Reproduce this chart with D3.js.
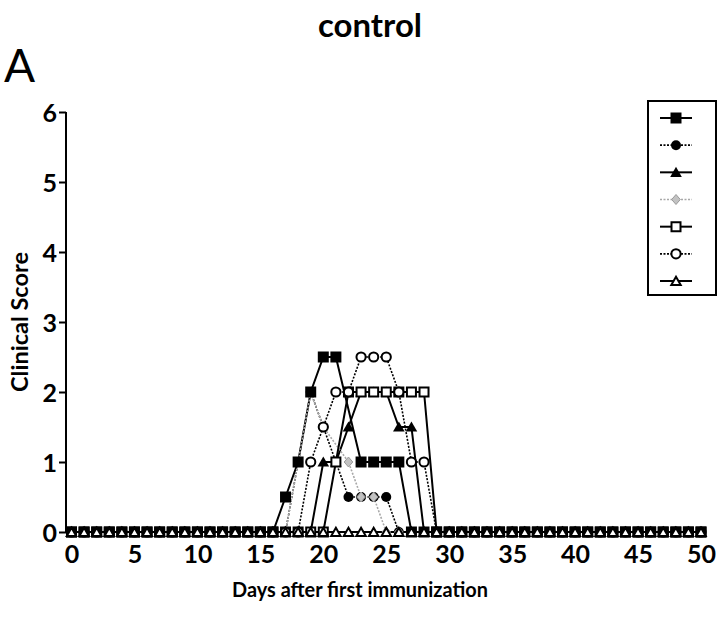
<!DOCTYPE html>
<html>
<head>
<meta charset="utf-8">
<script src="https://cdn.jsdelivr.net/npm/d3@7"></script>
<style>
  html, body { margin: 0; padding: 0; background: #fff; }
  svg { display: block; }
  text { font-family: Lato, "Open Sans", sans-serif; fill: #000; }
</style>
</head>
<body>
<svg id="chart" width="720" height="617"></svg>
<script>
// ---- data ----
const days = d3.range(0, 51);
const xTicks = [0, 5, 10, 15, 20, 25, 30, 35, 40, 45, 50];
const yTicks = [0, 1, 2, 3, 4, 5, 6];
const zeros = n => Array(n).fill(0);

// series 1: filled square, solid
const s1 = [...zeros(17), 0.5, 1, 2, 2.5, 2.5, null, 1, 1, 1, 1, ...zeros(24)];
// series 2: filled circle, dotted
const s2 = [...zeros(18), 1, 2, 1.5, 1, 0.5, 0.5, 0.5, 0.5, ...zeros(25)];
// series 3: filled triangle, solid
const s3 = [...zeros(20), 1, 1, 1.5, 2, 2, 2, 1.5, 1.5, ...zeros(23)];
// series 4: grey diamond, dotted grey
const s4 = [...zeros(18), 1, 2, 1.5, null, 1, 0.5, 0.5, ...zeros(26)];
// series 5: open square, solid
const s5 = [...zeros(21), 1, 2, 2, 2, 2, 2, 2, 2, ...zeros(22)];
// series 6: open circle, dotted
const s6 = [...zeros(19), 1, 1.5, 2, 2, 2.5, 2.5, 2.5, 2, 1, 1, ...zeros(22)];
// series 7: open triangle, solid
const s7 = zeros(51);

const seriesValues = [s1, s2, s3, s4, s5, s6, s7];
const markerShapes = ["square", "circle", "triangle", "diamond", "square", "circle", "triangle"];
const markerFilled = [true, true, true, true, false, false, false];
const lineDashed   = [false, true, false, true, false, true, false];
const markerOrder  = [1, 2, 3, 4, 5, 0, 6];

// ---- layout ----
const svg = d3.select("#chart");
const x = d3.scaleLinear().domain([0, 50]).range([71.5, 701]);
const y = d3.scaleLinear().domain([0, 6]).range([532, 112]);

function fitText(sel, width) {
  const fs = parseFloat(sel.attr("font-size"));
  const w = sel.node().getComputedTextLength();
  sel.attr("font-size", (fs * width / w).toFixed(2));
  return sel;
}

// title & panel letter
svg.append("text").attr("x", 370).attr("y", 37).attr("text-anchor", "middle")
  .attr("font-size", 30).attr("font-weight", 700).text("control").call(fitText, 104);
svg.append("text").attr("x", 4).attr("y", 82)
  .attr("font-size", 46).text("A");

// y axis
const yAxis = svg.append("g").attr("transform", "translate(66,0)")
  .call(d3.axisLeft(y).tickValues(yTicks).tickSize(7).tickPadding(2).tickFormat(d3.format("d")));
yAxis.select(".domain").attr("stroke", "#000").attr("stroke-width", 2)
  .attr("d", `M0,${y(6)}V${y(0)}`);
yAxis.selectAll(".tick line").attr("stroke", "#000").attr("stroke-width", 2);
yAxis.selectAll(".tick text").attr("font-size", 25).attr("font-weight", 700)
  .attr("font-family", "Lato, sans-serif").attr("dy", "0.36em");

// x axis (labels only)
const xAxis = svg.append("g").attr("transform", "translate(0,545)")
  .call(d3.axisBottom(x).tickValues(xTicks).tickSize(0).tickPadding(0).tickFormat(d3.format("d")));
xAxis.select(".domain").remove();
xAxis.selectAll(".tick text").attr("font-size", 25).attr("font-weight", 700)
  .attr("font-family", "Lato, sans-serif").attr("dy", "0.71em");

// axis titles
svg.append("text").attr("transform", "translate(28,322) rotate(-90)")
  .attr("text-anchor", "middle").attr("font-size", 20).attr("font-weight", 700)
  .text("Clinical Score").call(fitText, 140);
svg.append("text").attr("x", 360).attr("y", 597).attr("text-anchor", "middle")
  .attr("font-size", 20).attr("font-weight", 700)
  .text("Days after first immunization").call(fitText, 256);

// marker shapes (filled / open variants)
function symbolPath(shape, filled) {
  if (shape === "square") {
    const h = filled ? 5.5 : 4.5;
    return `M${-h},${-h}H${h}V${h}H${-h}Z`;
  }
  if (shape === "circle") {
    const r = filled ? 5 : 4.6;
    return `M${r},0A${r},${r} 0 1,1 ${-r},0A${r},${r} 0 1,1 ${r},0Z`;
  }
  if (shape === "triangle") {
    return filled ? "M0,-5.5L5.8,4.6L-5.8,4.6Z" : "M0,-4.2L4.7,4L-4.7,4Z";
  }
  // diamond
  return "M0,-5L4.3,0L0,5L-4.3,0Z";
}
function styleMarker(sel, i) {
  if (i === 3) {
    sel.attr("fill", "#c2c2c2").attr("stroke", "#9a9a9a").attr("stroke-width", 1);
  } else if (markerFilled[i]) {
    sel.attr("fill", "#000").attr("stroke", "none");
  } else {
    sel.attr("fill", "#fff").attr("stroke", "#000").attr("stroke-width", 2);
  }
}
function styleLine(sel, i) {
  sel.attr("fill", "none")
    .attr("stroke", i === 3 ? "#a8a8a8" : "#000")
    .attr("stroke-width", lineDashed[i] ? 1.6 : 2)
    .attr("stroke-dasharray", lineDashed[i] ? "2,1.5" : null);
}

const line = d3.line().x(d => x(d.day)).y(d => y(d.v));
const seriesPts = seriesValues.map(vals =>
  days.map((d, k) => ({ day: d, v: vals[k] })).filter(p => p.v !== null));

const linesG = svg.append("g");
seriesPts.forEach((pts, i) => {
  linesG.append("path").datum(pts).attr("d", line).call(styleLine, i);
});
const markG = svg.append("g");
markerOrder.forEach(i => {
  markG.append("g").selectAll("path").data(seriesPts[i]).join("path")
    .attr("d", symbolPath(markerShapes[i], markerFilled[i]))
    .attr("transform", d => `translate(${x(d.day)},${y(d.v)})`)
    .call(styleMarker, i);
});

// legend
const lg = svg.append("g");
lg.append("rect").attr("x", 648).attr("y", 101).attr("width", 68).attr("height", 194)
  .attr("fill", "none").attr("stroke", "#000").attr("stroke-width", 2);
const legendY = d3.scaleLinear().domain([0, 6]).range([118, 281]);
seriesValues.forEach((vals, i) => {
  const cy = legendY(i);
  lg.append("path").attr("d", `M660,${cy}H692`).call(styleLine, i);
  lg.append("path").attr("d", symbolPath(markerShapes[i], markerFilled[i]))
    .attr("transform", `translate(676,${cy})`)
    .call(styleMarker, i);
});
</script>
</body>
</html>
